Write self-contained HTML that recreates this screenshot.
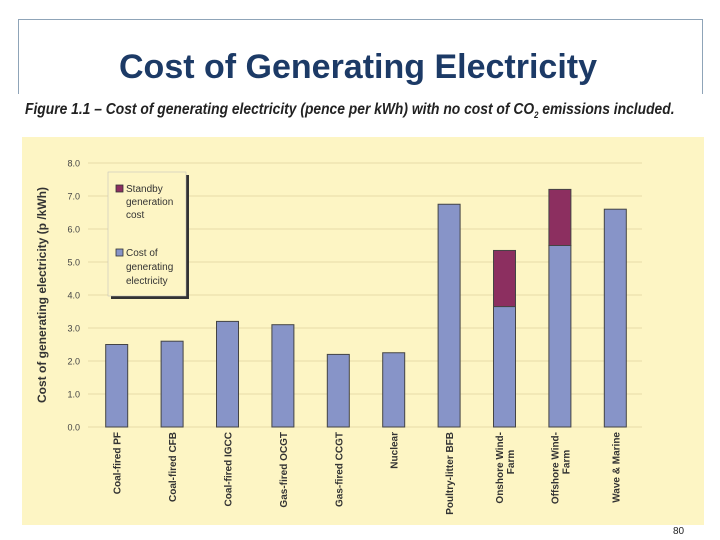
<!DOCTYPE html>
<html><head><meta charset="utf-8"><style>
body{margin:0;width:720px;height:540px;background:#fff;overflow:hidden;position:relative;font-family:"Liberation Sans",sans-serif}
.abs{position:absolute}
</style></head><body>
<div class="abs" style="left:18px;top:19px;width:683px;height:74px;border:1px solid #8fa4b8;border-bottom:none"></div>
<div class="abs" style="left:0;width:716px;top:48px;text-align:center;font-size:34px;font-weight:bold;color:#1c3a66">Cost of Generating Electricity</div>
<div class="abs" style="left:25px;top:101px;font-style:italic;font-weight:bold;font-size:16px;color:#222;white-space:nowrap;transform:scaleX(0.865);transform-origin:left">Figure 1.1 – Cost of generating electricity (pence per kWh) with no cost of CO<sub style="font-size:9px">2</sub> emissions included.</div>
<div class="abs" style="left:22px;top:137px;width:682px;height:388px;background:#fdf5c4"></div>
<svg class="abs" style="left:0;top:0" width="720" height="540">
<g id="grid"></g><g id="bars"></g><g id="xlabels"></g>
<text transform="translate(46,295) rotate(-90)" text-anchor="middle" font-size="12" font-weight="bold" fill="#333">Cost of generating electricity (p /kWh)</text>
<g>
<rect x="111" y="175" width="78" height="124" fill="#333"/>
<rect x="108" y="172" width="78" height="124" fill="#fdf5c4" stroke="#bbb" stroke-width="0.5"/>
<rect x="116" y="185" width="7" height="7" fill="#8c2f60" stroke="#333" stroke-width="0.8"/>
<text font-size="10" fill="#333" x="126" y="192">Standby</text>
<text font-size="10" fill="#333" x="126" y="205">generation</text>
<text font-size="10" fill="#333" x="126" y="218">cost</text>
<rect x="116" y="249" width="7" height="7" fill="#8794c8" stroke="#333" stroke-width="0.8"/>
<text font-size="10" fill="#333" x="126" y="256">Cost of</text>
<text font-size="10" fill="#333" x="126" y="270">generating</text>
<text font-size="10" fill="#333" x="126" y="284">electricity</text>
</g>
</svg>
<div class="abs" style="left:673px;top:526px;font-size:10px;color:#222">80</div>
<script>
const categories=[["Coal-fired PF"],["Coal-fired CFB"],["Coal-fired IGCC"],["Gas-fired OCGT"],["Gas-fired CCGT"],["Nuclear"],["Poultry-litter BFB"],["Onshore Wind-","Farm"],["Offshore Wind-","Farm"],["Wave & Marine"]];
const baseCost=[2.5,2.6,3.2,3.1,2.2,2.25,6.75,3.65,5.5,6.6];
const standbyCost=[0,0,0,0,0,0,0,1.7,1.7,0];
const yTicks=[0,1,2,3,4,5,6,7,8];
const NS="http://www.w3.org/2000/svg";
const x0=88,x1=642,yB=427,yT=163,yMax=8;
const y=v=>yB-(v/yMax)*(yB-yT);
const step=(x1-x0)/categories.length;
const xc=i=>x0+step*(i+0.5)+1;
function mk(t,a,p){const e=document.createElementNS(NS,t);for(const k in a)e.setAttribute(k,a[k]);p.appendChild(e);return e;}
const grid=document.getElementById('grid'),bars=document.getElementById('bars'),xl=document.getElementById('xlabels');
yTicks.forEach(t=>{
const l=mk('line',{x1:x0,x2:x1,y1:y(t),y2:y(t),stroke:'#e6dca8','stroke-width':1},grid);


const tx=mk('text',{x:80,y:y(t)+3.5,'text-anchor':'end','font-size':9,fill:'#444'},grid);
tx.textContent=t.toFixed(1);


});
const bw=22;
categories.forEach((c,i)=>{
const r=mk('rect',{x:xc(i)-bw/2,y:y(baseCost[i]),width:bw,height:y(0)-y(baseCost[i]),fill:'#8794c8',stroke:'#444','stroke-width':1},bars);


if(standbyCost[i]>0){
const top=baseCost[i]+standbyCost[i];
const s=mk('rect',{x:xc(i)-bw/2,y:y(top),width:bw,height:y(baseCost[i])-y(top),fill:'#8c2f60',stroke:'#444','stroke-width':1},bars);


}
const g=mk('g',{transform:`translate(${xc(i)},432) rotate(-90)`},xl);


c.forEach((line,j)=>{
const t=mk('text',{x:0,y:4+(j-(c.length-1)/2)*11,'text-anchor':j==0?'end':'middle','font-size':10,'font-weight':'bold',fill:'#333'},g);
if(j>0){t.setAttribute('x',-30);}
t.textContent=line;
});
});
</script>
</body></html>
